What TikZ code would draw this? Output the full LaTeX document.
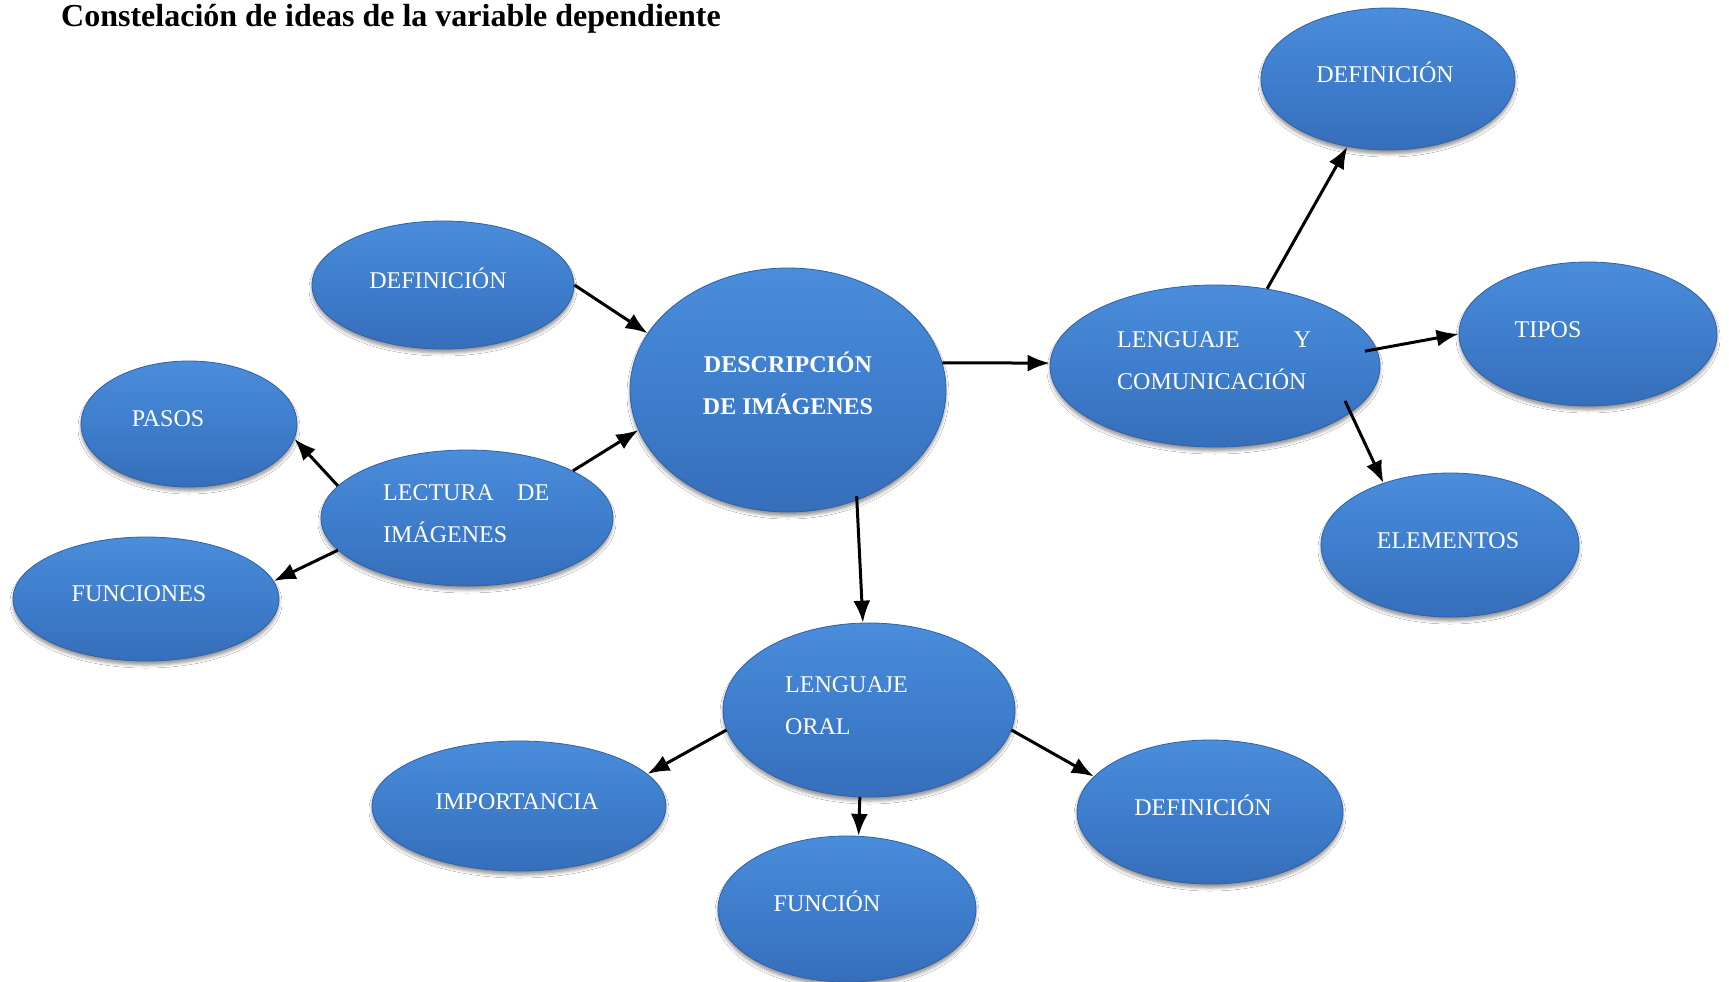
\documentclass[tikz,border=0pt]{standalone}
\usepackage{fontspec}
\setmainfont{Liberation Serif}
\usetikzlibrary{arrows.meta,shapes.geometric,shadows.blur}
\definecolor{bTop}{RGB}{74,141,218}
\definecolor{bMid}{RGB}{62,126,205}
\definecolor{bBot}{RGB}{54,110,186}
\definecolor{bEdge}{RGB}{48,96,165}
\tikzset{arr/.style={-{Latex[length=22pt,width=17pt]}, line width=3pt, draw=black}}
\begin{document}
\begin{tikzpicture}[x=1pt,y=-1pt,
  blob/.style n args={2}{ellipse, draw=bEdge, line width=0.8pt,
    top color=bTop, bottom color=bBot, middle color=bMid,
    minimum width=#1pt, minimum height=#2pt, inner sep=0pt,
    blur shadow={shadow xshift=0pt, shadow yshift=-4pt, shadow blur radius=3pt, shadow opacity=40}},
  lbl/.style={text=white, font=\fontsize{24}{42}\selectfont, inner sep=0pt}]
\fill[white] (0,0) rectangle (1729,982);
\useasboundingbox (0,0) rectangle (1729,982);

\node[anchor=base west, inner sep=0pt, font=\fontsize{32}{38}\selectfont\bfseries] (title) at (61,27) {Constelación de ideas de la variable dependiente};

% ellipses
\node[blob={254}{142}] (defTR) at (1388,79) {};
\node[blob={262}{128}] (defL) at (443,285) {};
\node[blob={316}{244}] (desc) at (788,390) {};
\node[blob={330}{162}] (lyc) at (1215,366) {};
\node[blob={258}{144}] (tipos) at (1588,334) {};
\node[blob={216}{126}] (pasos) at (189,424) {};
\node[blob={292}{136}] (lect) at (467,518) {};
\node[blob={266}{124}] (func) at (146,599) {};
\node[blob={258}{144}] (elem) at (1450,545) {};
\node[blob={292}{174}] (oral) at (869,710) {};
\node[blob={294}{130}] (imp) at (519,806) {};
\node[blob={266}{144}] (defB) at (1210,812) {};
\node[blob={258}{146}] (funcion) at (847,909) {};

% labels
\node[lbl, anchor=base] (tDefTR) at (1385,82) {DEFINICIÓN};
\node[lbl, anchor=base] (tDefL) at (438,288) {DEFINICIÓN};
\node[lbl, align=center, font=\fontsize{24}{42}\selectfont\bfseries] (tDesc) at (788,383) {DESCRIPCIÓN\\DE IMÁGENES};
\node[lbl, anchor=west, align=left] (tLyc) at (1117,361) {\hbox to 194pt{LENGUAJE\hfill Y}\\COMUNICACIÓN};
\node[lbl, anchor=base] (tTipos) at (1548,337) {TIPOS};
\node[lbl, anchor=base] (tPasos) at (168,426) {PASOS};
\node[lbl, anchor=west, align=left] (tLect) at (383,514) {\hbox to 166pt{LECTURA\hfill DE}\\IMÁGENES};
\node[lbl, anchor=base] (tFunc) at (139,601) {FUNCIONES};
\node[lbl, anchor=base] (tElem) at (1448,548) {ELEMENTOS};
\node[lbl, anchor=west, align=left] (tOral) at (785,706) {LENGUAJE\\ORAL};
\node[lbl, anchor=base] (tImp) at (517,809) {IMPORTANCIA};
\node[lbl, anchor=base] (tDefB) at (1203,815) {DEFINICIÓN};
\node[lbl, anchor=base] (tFuncion) at (827,911) {FUNCIÓN};

% connectors
\draw[arr] (defL.0) -- (desc.158);
\draw[arr] (lect.24) -- (desc.195);
\draw[arr] (lect.166) -- (pasos.-8);
\draw[arr] (lect.194) -- (func.8);
\draw[arr] (desc.10) -- (lyc.179);
\draw[arr, shorten <=-4pt] (desc.-58) -- (oral.94);
\draw[arr] (lyc.56) -- (defTR.239);
\draw[arr, shorten <=-12pt] (lyc.6) -- (tipos.180);
\draw[arr, shorten <=-13pt] (lyc.-19) -- (elem.137);
\draw[arr] (oral.188) -- (imp.14);
\draw[arr] (oral.-96) -- (funcion.81);
\draw[arr] (oral.-8) -- (defB.163);
\end{tikzpicture}
\end{document}
